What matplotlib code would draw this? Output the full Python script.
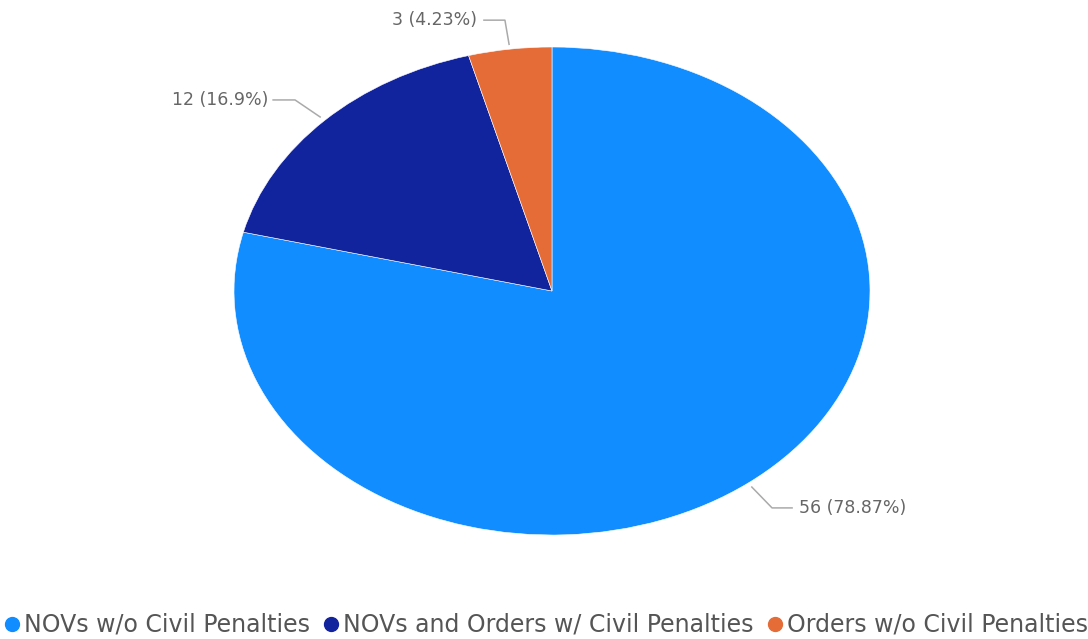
import matplotlib
matplotlib.use("Agg")
import matplotlib.pyplot as plt
import numpy as np

categories = ["NOVs w/o Civil Penalties", "NOVs and Orders w/ Civil Penalties", "Orders w/o Civil Penalties"]
values = [56, 12, 3]
pct_labels = ["78.87%", "16.9%", "4.23%"]
colors = ["#118DFF", "#12239E", "#E66C37"]

W, H = 1088, 639
fig = plt.figure(figsize=(W / 100, H / 100), dpi=100)
cx, cy, rx, ry = 552, 291, 318, 244
ax = fig.add_axes([(cx - rx) / W, (H - (cy + ry)) / H, 2 * rx / W, 2 * ry / H])
wedges, _ = ax.pie(values, colors=colors, startangle=90, counterclock=False,
                   wedgeprops=dict(linewidth=0.4, edgecolor="white"))
ax.set_aspect("auto")
ax.set_xlim(-1, 1)
ax.set_ylim(-1, 1)
ax.axis("off")

# leader lines: (elbow point, horizontal end, text x, alignment)
leaders = [
    ((0.692, -0.889), 0.755, 0.778, "left"),
    ((-0.808, 0.783), -0.877, -0.893, "right"),
    ((-0.148, 1.11), -0.214, -0.236, "right"),
]
for w, v, p, (elbow, hend, tx, ha) in zip(wedges, values, pct_labels, leaders):
    ang = np.deg2rad((w.theta1 + w.theta2) / 2)
    sx, sy = 1.02 * np.cos(ang), 1.02 * np.sin(ang)
    ax.plot([sx, elbow[0], hend], [sy, elbow[1], elbow[1]], color="#AAAAAA",
            lw=1.1, clip_on=False)
    ax.text(tx, elbow[1], f"{v} ({p})", ha=ha, va="center", fontsize=12.5,
            color="#666666", family="DejaVu Sans", clip_on=False)

handles = [plt.Line2D([], [], marker="o", ls="", color=c, markersize=10) for c in colors]
fig.legend(handles, categories, loc="lower center", bbox_to_anchor=(0.5, -0.03), ncol=3,
           frameon=False, handletextpad=0.0, columnspacing=0.4, handlelength=1.0,
           prop=dict(family="DejaVu Sans", size=17), labelcolor="#555555")

fig.savefig("out.png", dpi=100, facecolor="white")
